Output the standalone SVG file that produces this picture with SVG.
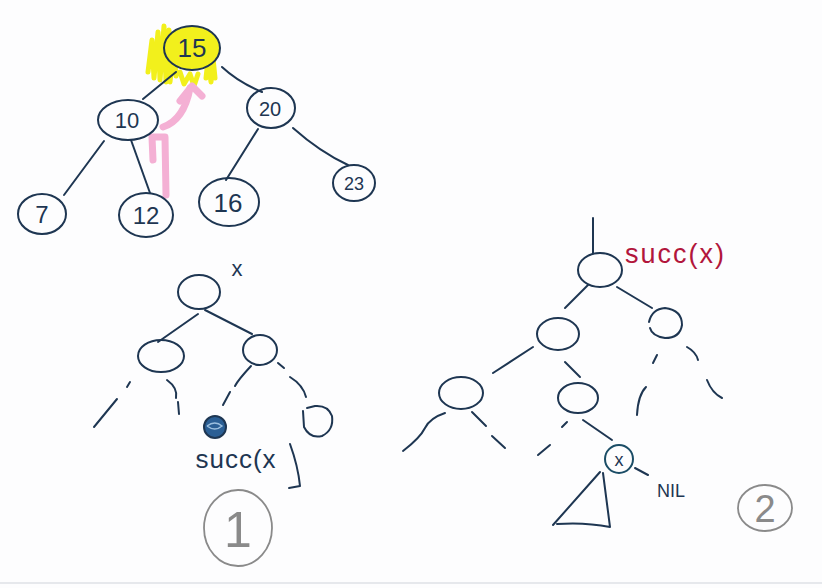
<svg xmlns="http://www.w3.org/2000/svg" width="822" height="588" viewBox="0 0 822 588">
<style>
.ink{fill:none;stroke:#1e3652;stroke-width:2;stroke-linecap:round;stroke-linejoin:round}
.num{font-family:"Liberation Sans",Arial,sans-serif;fill:#1e3652;text-anchor:middle}
.grey{fill:none;stroke:#8a8a8a;stroke-width:1.8}
.gnum{font-family:"Liberation Sans",Arial,sans-serif;fill:#8a8a8a;text-anchor:middle}
.pink{fill:none;stroke:#f4b0d4;stroke-width:7;stroke-linecap:round;stroke-linejoin:round}
</style>
<rect width="822" height="588" fill="#fdfdfe"/>
<line x1="0" y1="583" x2="822" y2="583" stroke="#e6e8ec" stroke-width="2"/>

<!-- yellow highlight -->
<g id="highlight">
<path d="M148,72 L152,40 L154,78 L158,32 L160,80 L164,26 L166,82 L169,30 L170,82 L174,44 L176,76 M206,78 L208,60 L211,82 L213,58 L215,78 M180,72 L184,84 L190,74 L194,86 L198,74" fill="none" stroke="#f2f01c" stroke-width="5" stroke-linecap="round" stroke-linejoin="round"/>
</g>

<g id="connectors">
<!-- top tree -->
<path class="ink" d="M176,72 L143,99"/>
<path class="ink" d="M222,67 Q238,82 262,92"/>
<path class="ink" d="M104,141 L64,195"/>
<path class="ink" d="M131,140 L150,193"/>
<path class="ink" d="M258,129 L226,180"/>
<path class="ink" d="M293,128 Q320,152 348,165"/>
<!-- tree 1 -->
<path class="ink" d="M198,314 L158,342"/>
<path class="ink" d="M205,310 L252,334"/>
<path class="ink" d="M130,382 L127,387 M117,399 L94,427"/>
<path class="ink" d="M167,380 Q178,388 176,398 M178,402 L179,414"/>
<path class="ink" d="M251,366 Q238,380 235,386 M230,392 L223,405"/>
<path class="ink" d="M278,363 L284,368 M290,377 Q303,385 306,397"/>
<!-- tree 2 -->
<path class="ink" d="M593,218 L593,253"/>
<path class="ink" d="M588,285 L565,308"/>
<path class="ink" d="M617,287 L652,308"/>
<path class="ink" d="M533,347 L493,373"/>
<path class="ink" d="M565,362 L580,377"/>
<path class="ink" d="M657,355 L653,363 M646,387 Q638,395 637,415"/>
<path class="ink" d="M687,347 Q696,352 698,360 M707,380 Q712,393 722,398"/>
<path class="ink" d="M445,413 Q430,418 425,428 Q420,438 403,451"/>
<path class="ink" d="M472,412 L486,426 M492,436 L505,448"/>
<path class="ink" d="M567,422 L562,427 M550,445 L538,455"/>
<path class="ink" d="M583,420 L612,440"/>
<path class="ink" d="M635,468 L648,475"/>
</g>

<!-- pink arrow -->
<g id="pink-arrow">
<path class="pink" d="M166,195 L165,137 L152,137 L153,160"/>
<path class="pink" d="M163,127 Q184,120 190,88"/>
<path class="pink" d="M180,101 L192,86 L202,96" stroke-width="6"/>
</g>

<!-- top tree nodes -->
<g id="n15">
<ellipse cx="192" cy="48" rx="28" ry="22" fill="#f2f01c" stroke="#1e3652" stroke-width="2"/>
<text class="num" x="192" y="57" font-size="26">15</text>
</g>
<g id="n10">
<ellipse class="ink" cx="128" cy="120" rx="30" ry="20"/>
<text class="num" x="127" y="128" font-size="22">10</text>
</g>
<g id="n20">
<ellipse class="ink" cx="271" cy="108" rx="24" ry="20"/>
<text class="num" x="270" y="116" font-size="20">20</text>
</g>
<g id="n7">
<ellipse class="ink" cx="42" cy="214" rx="24" ry="20"/>
<text class="num" x="42" y="223" font-size="24">7</text>
</g>
<g id="n12">
<ellipse class="ink" cx="146" cy="215" rx="27" ry="22"/>
<text class="num" x="146" y="224" font-size="24">12</text>
</g>
<g id="n16">
<ellipse class="ink" cx="229" cy="202" rx="30" ry="24"/>
<text class="num" x="228" y="212" font-size="26">16</text>
</g>
<g id="n23">
<ellipse class="ink" cx="354" cy="183" rx="21" ry="18"/>
<text class="num" x="354" y="190" font-size="18">23</text>
</g>

<!-- tree 1 -->
<g id="t1-root">
<ellipse class="ink" cx="199" cy="292" rx="21" ry="17"/>
<text class="num" x="237" y="276" font-size="22">x</text>
</g>
<g id="t1-left"><ellipse class="ink" cx="161" cy="356" rx="23" ry="16"/></g>
<g id="t1-right"><ellipse class="ink" cx="260" cy="350" rx="17" ry="15"/></g>
<g id="t1-rr"><path class="ink" d="M303,411 L304,427 Q310,439 322,436 Q334,430 332,416 Q328,405 315,406 L307,408"/></g>
<g id="t1-succ">
<circle cx="215" cy="427" r="11" fill="#2b5f95" stroke="#1e3652" stroke-width="2"/>
<path d="M207,426 Q215,420 222,426 Q215,432 207,426" fill="none" stroke="#9cc0e0" stroke-width="1.5"/>
<text class="num" x="236" y="468" font-size="26" letter-spacing="1">succ(x</text>
<path class="ink" d="M290,444 Q298,466 300,486 L289,488"/>
</g>
<g id="label1">
<ellipse class="grey" cx="238" cy="528" rx="34" ry="38"/>
<text class="gnum" x="238" y="547" font-size="50">1</text>
</g>

<!-- tree 2 -->
<g id="t2-root">
<ellipse class="ink" cx="600" cy="270" rx="22" ry="17"/>
<text x="625" y="263" font-family="Liberation Sans,Arial,sans-serif" font-size="27" letter-spacing="2" fill="#b2163c">succ(x)</text>
</g>
<g id="t2-left"><ellipse class="ink" cx="558" cy="334" rx="21" ry="16"/></g>
<g id="t2-right"><path class="ink" d="M649,322 Q652,309 665,308 Q682,310 682,325 Q680,338 665,338 Q652,336 650,328"/></g>
<g id="t2-ll"><ellipse class="ink" cx="461" cy="393" rx="22" ry="16"/></g>
<g id="t2-lr"><ellipse class="ink" cx="578" cy="398" rx="20" ry="15"/></g>
<g id="t2-x">
<circle cx="619" cy="459" r="14" fill="none" stroke="#1b4d66" stroke-width="2"/>
<text class="num" x="619" y="466" font-size="18">x</text>
<path class="ink" d="M600,472 L553,525 M557,524 Q585,522 610,527 L603,473"/>
<text class="num" x="671" y="497" font-size="18">NIL</text>
</g>
<g id="label2">
<ellipse class="grey" cx="765" cy="508" rx="27" ry="23"/>
<text class="gnum" x="765" y="522" font-size="38">2</text>
</g>
</svg>
